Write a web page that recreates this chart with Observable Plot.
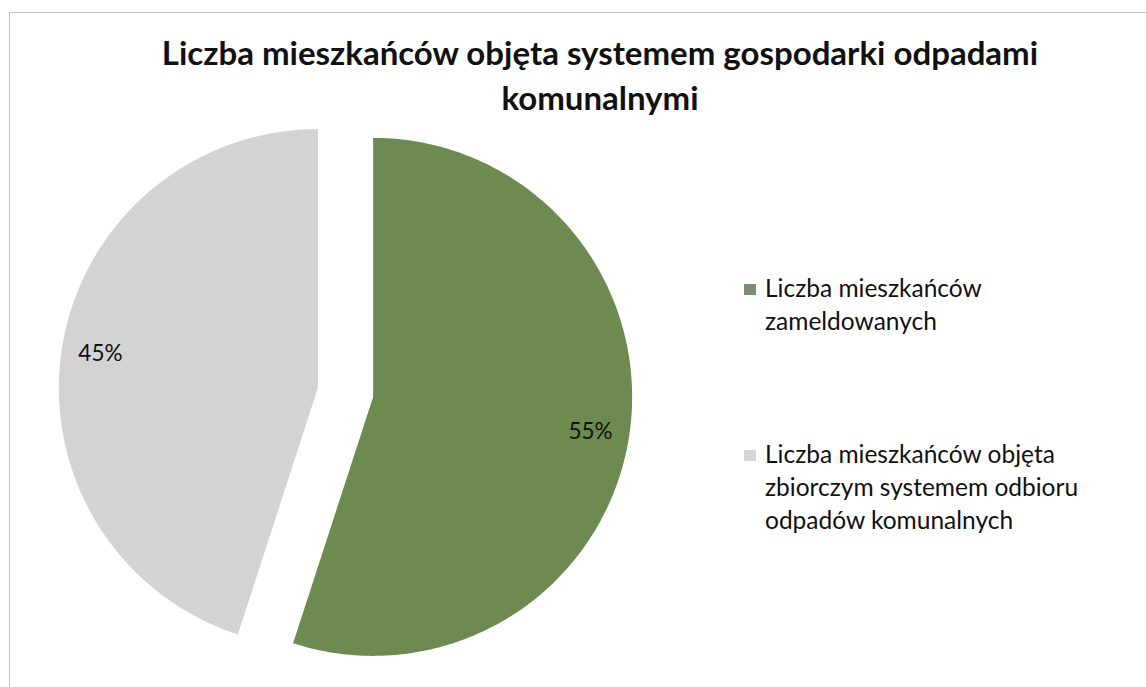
<!DOCTYPE html>
<html>
<head>
<meta charset="utf-8">
<script src="https://cdn.jsdelivr.net/npm/d3@7"></script>
<script src="https://cdn.jsdelivr.net/npm/@observablehq/plot@0.6"></script>
<style>
  html, body { margin: 0; padding: 0; background: #fff; }
  #wrap { position: relative; width: 1146px; height: 687px; overflow: hidden; background: #fff; font-family: Lato, "Open Sans", sans-serif; color: #111; }
  #frame { position: absolute; left: 9px; top: 12px; width: 1200px; height: 800px; border-left: 1px solid #c4c4c4; border-top: 1px solid #c4c4c4; }
  #title { position: absolute; left: 100px; width: 1000px; top: 30px; text-align: center; font-weight: 700; font-size: 33px; line-height: 45px; color: #111; }
  #chart { position: absolute; left: 0; top: 0; }
  .leg { position: absolute; left: 765px; font-size: 24.5px; line-height: 33px; color: #111; }
  .sw { position: absolute; left: 744px; width: 12px; height: 11px; }
</style>
</head>
<body>
<div id="wrap">
  <div id="frame"></div>
  <div id="chart"></div>
  <div id="title"></div>
  <div id="legend"></div>
</div>
<script>
const title = ["Liczba mieszkańców objęta systemem gospodarki odpadami", "komunalnymi"];
const categories = ["Liczba mieszkańców zameldowanych", "Liczba mieszkańców objęta zbiorczym systemem odbioru odpadów komunalnych"];
const legendLines = [["Liczba mieszkańców", "zameldowanych"], ["Liczba mieszkańców objęta", "zbiorczym systemem odbioru", "odpadów komunalnych"]];
const values = [55, 45];
const colors = ["#6d8a51", "#d3d3d3"];
const swatchColors = ["#7a8f74", "#d6d6d6"];

// pie geometry in unit coordinates (d3 convention: angle 0 at top, clockwise)
const explode = 0.108;
const labelRadius = 0.85;
const arcs = d3.pie().sort(null).value(d => d)(values);
const total = d3.sum(values);

const slices = arcs.map((a, i) => {
  const mid = (a.startAngle + a.endAngle) / 2;
  const ox = explode * Math.sin(mid), oy = -explode * Math.cos(mid);
  const n = Math.max(2, Math.ceil((a.endAngle - a.startAngle) / (Math.PI / 180)));
  const pts = [{x: ox, y: oy, k: categories[i]}];
  for (let j = 0; j <= n; j++) {
    const t = a.startAngle + (a.endAngle - a.startAngle) * j / n;
    pts.push({x: ox + Math.sin(t), y: oy - Math.cos(t), k: categories[i]});
  }
  return {pts, color: colors[i],
    label: {x: ox + labelRadius * Math.sin(mid), y: oy - labelRadius * Math.cos(mid),
            text: Math.round(values[i] / total * 100) + "%"}};
});

const cx = 345, cy = 392, r = 259;

const plot = Plot.plot({
  width: 1146,
  height: 687,
  margin: 0,
  style: {fontFamily: "Lato, 'Open Sans', sans-serif", background: "transparent"},
  x: {domain: [-1, 1], range: [cx - r, cx + r], axis: null},
  y: {domain: [-1, 1], range: [cy - r, cy + r], axis: null},
  marks: [
    ...slices.map(s => Plot.line(s.pts, {x: "x", y: "y", z: "k", fill: s.color, stroke: "none", curve: "linear-closed"})),
    Plot.text(slices.map(s => s.label), {x: "x", y: "y", text: "text", fontSize: 22.5, fill: "#111", textAnchor: "middle"})
  ]
});
document.getElementById("chart").appendChild(plot);

document.getElementById("title").innerHTML = title.join("<br>");

const legendTops = [271, 437];
const legend = document.getElementById("legend");
legendLines.forEach((lines, i) => {
  const sw = document.createElement("div");
  sw.className = "sw";
  sw.style.top = (legendTops[i] + 13) + "px";
  sw.style.background = swatchColors[i];
  legend.appendChild(sw);
  const t = document.createElement("div");
  t.className = "leg";
  t.style.top = legendTops[i] + "px";
  t.innerHTML = lines.join("<br>");
  legend.appendChild(t);
});
</script>
</body>
</html>
